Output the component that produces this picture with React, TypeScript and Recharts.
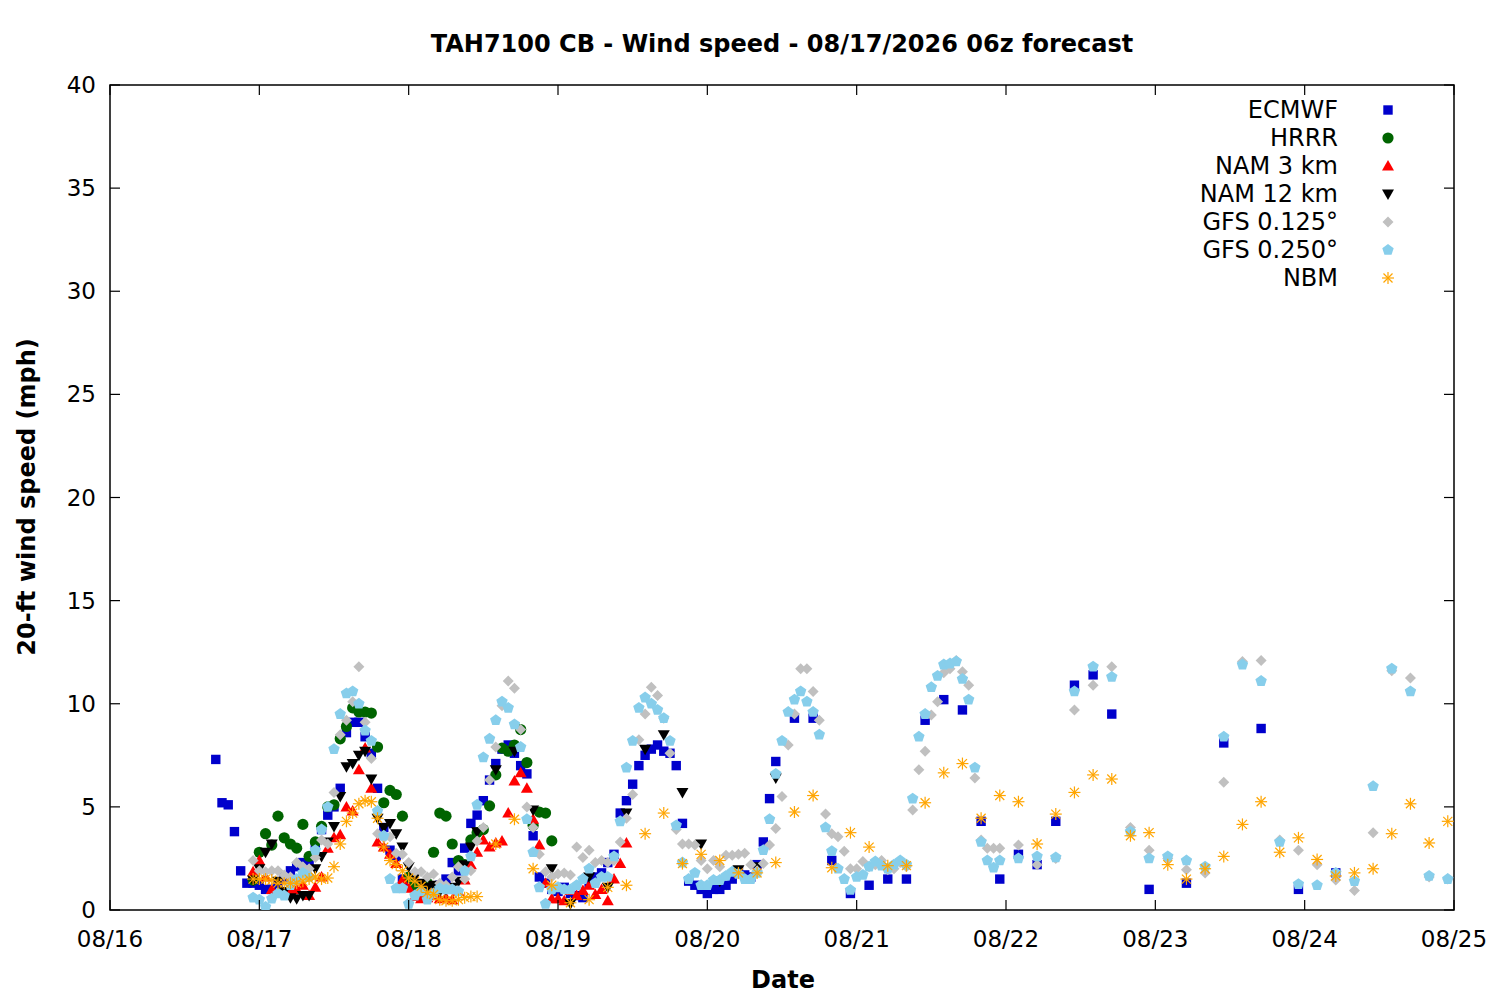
import React from 'react'
import {
  ScatterChart,
  Scatter,
  XAxis,
  YAxis,
  ReferenceArea,
  Legend,
} from 'recharts'

document.body.style.margin = '0'

// hours since 08/16 00:00, wind speed (mph)
const ecmwf: [number, number][] = [
  [17, 7.3], [18, 5.2], [19, 5.1], [20, 3.8], [21, 1.9], [22, 1.3], [23, 1.3], [24, 1.2],
  [25, 1.0], [26, 1.0], [27, 1.3], [28, 1.6], [29, 1.9], [30, 2.1], [31, 2.3], [32, 2.4],
  [33, 3.1], [34, 3.9], [35, 4.6], [36, 5.0], [37, 5.9], [38, 8.6], [39, 9.1], [40, 9.1],
  [41, 8.4], [42, 7.6], [43, 5.9], [44, 4.0], [45, 2.9], [46, 2.6], [47, 1.5], [48, 1.3],
  [49, 1.1], [50, 1.0], [51, 0.8], [52, 0.9], [53, 1.2], [54, 1.5], [55, 2.3], [56, 1.9],
  [57, 3.0], [58, 4.2], [59, 4.6], [60, 5.3], [61, 6.3], [62, 7.1], [63, 7.8], [64, 8.0],
  [65, 7.6], [66, 7.0], [67, 6.6], [68, 3.6], [69, 1.6], [70, 1.3], [71, 1.0], [72, 0.9],
  [73, 1.1], [74, 0.8], [75, 0.7], [76, 0.6], [77, 1.3], [78, 1.6], [79, 1.8], [80, 2.3],
  [81, 2.7], [82, 4.7], [83, 5.3], [84, 6.1], [85, 7.0], [86, 7.5], [87, 7.8], [88, 8.0],
  [89, 7.7], [90, 7.6], [91, 7.0], [92, 4.2], [93, 1.4], [94, 1.2], [95, 1.0], [96, 0.8],
  [97, 1.0], [98, 1.0], [99, 1.2], [100, 1.5], [101, 1.9], [102, 1.7], [103, 1.6], [104, 2.2],
  [105, 3.3], [106, 5.4], [107, 7.2], [110, 9.3], [113, 9.3], [116, 2.4], [119, 0.8],
  [122, 1.2], [125, 1.5], [128, 1.5], [131, 9.2], [134, 10.2], [137, 9.7], [140, 4.3],
  [143, 1.5], [146, 2.7], [149, 2.2], [152, 4.3], [155, 10.9], [158, 11.4], [161, 9.5],
  [167, 1.0], [173, 1.3], [179, 8.1], [185, 8.8], [191, 1.0], [197, 1.8],
]

const hrrr: [number, number][] = [
  [23, 1.45], [24, 2.8], [25, 3.7], [26, 3.15], [27, 4.55], [28, 3.5], [29, 3.2], [30, 3.0],
  [31, 4.15], [32, 2.6], [33, 3.3], [34, 4.05], [35, 5.0], [36, 5.1], [37, 8.3], [38, 8.9],
  [39, 9.8], [40, 9.6], [41, 9.6], [42, 9.55], [43, 7.9], [44, 5.2], [45, 5.8], [46, 5.6],
  [47, 4.55], [48, 1.6], [49, 1.2], [50, 1.0], [51, 1.3], [52, 2.8], [53, 4.7], [54, 4.55],
  [55, 3.2], [56, 2.4], [57, 2.2], [58, 3.4], [59, 3.75], [60, 3.9], [61, 5.05], [62, 6.55],
  [63, 7.85], [64, 7.7], [65, 8.0], [66, 8.75], [67, 7.15], [68, 4.1], [69, 4.75], [70, 4.7],
  [71, 3.35],
]

const nam3: [number, number][] = [
  [23, 1.85], [24, 2.4], [25, 1.6], [26, 1.0], [27, 0.8], [28, 0.8], [29, 0.9], [30, 1.0],
  [31, 1.2], [32, 0.7], [33, 1.1], [34, 1.6], [35, 3.0], [36, 3.5], [37, 3.65], [38, 5.0],
  [39, 4.8], [40, 6.8], [41, 7.85], [42, 5.9], [43, 3.3], [44, 3.05], [45, 2.7], [46, 2.25],
  [47, 1.45], [48, 1.05], [49, 0.65], [50, 0.55], [51, 0.6], [52, 0.7], [53, 0.55], [54, 0.6],
  [55, 0.5], [56, 0.9], [57, 1.45], [58, 2.2], [59, 2.8], [60, 3.4], [61, 3.05], [62, 3.25],
  [63, 3.35], [64, 4.7], [65, 6.25], [66, 6.65], [67, 5.9], [68, 4.4], [69, 3.15], [70, 1.3],
  [71, 0.55], [72, 0.55], [73, 0.45], [74, 0.95], [75, 0.7], [76, 0.95], [77, 1.2], [78, 0.75],
  [79, 1.0], [80, 0.45], [81, 1.5], [82, 2.25], [83, 3.25],
]

const nam12: [number, number][] = [
  [23, 1.45], [24, 2.0], [25, 2.8], [26, 3.2], [27, 1.4], [28, 0.9], [29, 0.6], [30, 0.55],
  [31, 0.7], [32, 0.7], [33, 2.0], [34, 2.6], [35, 3.3], [36, 4.05], [37, 5.5], [38, 6.95],
  [39, 7.1], [40, 7.5], [41, 7.7], [42, 6.35], [43, 4.45], [44, 4.0], [45, 4.2], [46, 3.7],
  [47, 3.05], [48, 2.1], [49, 1.6], [50, 1.3], [51, 1.1], [52, 1.2], [53, 0.9], [54, 1.0],
  [55, 1.1], [56, 1.4], [57, 2.2], [58, 3.05], [59, 3.8], [62, 6.8], [65, 7.7], [68, 4.85],
  [71, 2.0], [74, 0.3], [77, 1.6], [80, 1.1], [83, 4.7], [86, 7.8], [89, 8.5], [92, 5.7],
  [95, 3.2], [98, 1.4], [101, 1.95], [104, 2.1], [107, 6.4],
]

const gfs0125: [number, number][] = [
  [23, 2.4], [24, 1.9], [25, 1.85], [26, 1.9], [27, 1.9], [28, 1.7], [29, 1.6], [30, 2.3],
  [31, 2.1], [32, 2.0], [33, 2.55], [34, 3.4], [35, 3.2], [36, 5.7], [37, 8.5], [38, 9.2],
  [39, 10.1], [40, 11.8], [41, 9.1], [42, 7.35], [43, 3.7], [44, 3.5], [45, 3.55], [46, 2.75],
  [47, 2.7], [48, 2.3], [49, 1.85], [50, 1.85], [51, 1.6], [52, 1.75], [53, 1.3], [54, 1.2],
  [55, 1.6], [56, 2.1], [57, 1.5], [58, 1.9], [59, 3.35], [60, 4.0], [61, 6.3], [62, 7.9],
  [63, 9.9], [64, 11.1], [65, 10.75], [66, 8.75], [67, 5.0], [68, 4.0], [69, 2.7], [70, 1.85],
  [71, 1.6], [72, 1.75], [73, 1.8], [74, 1.7], [75, 3.05], [76, 2.55], [77, 2.9], [78, 2.3],
  [79, 2.4], [80, 2.3], [81, 2.4], [82, 3.3], [83, 4.45], [84, 5.6], [85, 8.25], [86, 9.5],
  [87, 10.8], [88, 10.4], [89, 9.3], [90, 7.6], [91, 3.9], [92, 3.2], [93, 3.2], [94, 3.15],
  [95, 2.4], [96, 2.0], [97, 2.4], [98, 2.1], [99, 2.65], [100, 2.65], [101, 2.7], [102, 2.75],
  [103, 2.2], [104, 1.9], [105, 2.25], [106, 3.15], [107, 3.95], [108, 5.5], [109, 8.0],
  [110, 9.5], [111, 11.7], [112, 11.7], [113, 10.6], [114, 9.2], [115, 4.65], [116, 3.7],
  [117, 3.55], [118, 2.85], [119, 2.0], [120, 2.0], [121, 2.35], [122, 2.1], [123, 2.2],
  [124, 2.4], [125, 1.95], [126, 2.0], [127, 2.3], [128, 2.1], [129, 4.85], [130, 6.8],
  [131, 7.7], [132, 9.45], [133, 10.1], [134, 11.5], [135, 11.7], [136, 12.1], [137, 11.55],
  [138, 10.9], [139, 6.4], [140, 3.4], [141, 3.0], [142, 3.0], [143, 3.0], [146, 3.15],
  [149, 2.2], [152, 2.5], [155, 9.7], [158, 10.9], [161, 11.8], [164, 4.0], [167, 2.9],
  [170, 2.5], [173, 1.95], [176, 1.8], [179, 6.2], [182, 12.05], [185, 12.1], [188, 3.4],
  [191, 2.9], [194, 2.2], [197, 1.45], [200, 0.95], [203, 3.75], [206, 11.6], [209, 11.25],
  [212, 1.6], [215, 1.5],
]

const gfs0250: [number, number][] = [
  [23, 0.6], [24, 0.5], [25, 0.15], [26, 0.55], [27, 0.8], [28, 0.7], [29, 1.2], [30, 1.5],
  [31, 1.8], [32, 1.6], [33, 2.9], [34, 3.9], [35, 5.0], [36, 7.8], [37, 9.5], [38, 10.5],
  [39, 10.6], [40, 10.0], [41, 8.7], [42, 8.2], [43, 4.8], [44, 3.6], [45, 1.5], [46, 1.05],
  [47, 1.05], [48, 0.3], [49, 0.7], [50, 0.9], [51, 0.5], [52, 0.8], [53, 1.05], [54, 1.0],
  [55, 1.0], [56, 0.9], [57, 1.9], [58, 2.6], [59, 5.1], [60, 7.4], [61, 8.3], [62, 9.2],
  [63, 10.1], [64, 9.8], [65, 9.0], [66, 7.9], [67, 4.4], [68, 2.8], [69, 1.1], [70, 0.3],
  [71, 1.0], [72, 1.1], [73, 1.0], [74, 1.0], [75, 1.2], [76, 1.5], [77, 2.0], [78, 1.3],
  [79, 1.6], [80, 1.6], [81, 2.6], [82, 4.3], [83, 6.9], [84, 8.2], [85, 9.8], [86, 10.3],
  [87, 10.0], [88, 9.7], [89, 9.3], [90, 8.2], [91, 4.1], [92, 2.3], [93, 1.5], [94, 1.8],
  [95, 1.2], [96, 1.2], [97, 1.45], [98, 1.45], [99, 1.65], [100, 1.85], [101, 1.75],
  [102, 1.5], [103, 1.5], [104, 1.8], [105, 2.9], [106, 4.4], [107, 6.6], [108, 8.2],
  [109, 9.6], [110, 10.2], [111, 10.6], [112, 10.1], [113, 9.6], [114, 8.5], [115, 4.0],
  [116, 2.85], [117, 2.0], [118, 1.5], [119, 0.97], [120, 1.6], [121, 1.7], [122, 2.1],
  [123, 2.35], [124, 2.15], [125, 2.0], [126, 2.2], [127, 2.4], [128, 2.2], [129, 5.4],
  [130, 8.4], [131, 9.5], [132, 10.8], [133, 11.35], [134, 11.9], [135, 11.95], [136, 12.05],
  [137, 11.2], [138, 10.2], [139, 6.9], [140, 3.3], [141, 2.4], [142, 2.05], [143, 2.4],
  [146, 2.5], [149, 2.6], [152, 2.55], [155, 10.6], [158, 11.8], [161, 11.3], [164, 3.8],
  [167, 2.5], [170, 2.6], [173, 2.4], [176, 2.1], [179, 8.4], [182, 11.9], [185, 11.1],
  [188, 3.3], [191, 1.25], [194, 1.2], [197, 1.8], [200, 1.4], [203, 6.0], [206, 11.7],
  [209, 10.6], [212, 1.65], [215, 1.5],
]

const nbm: [number, number][] = [
  [23, 1.5], [24, 1.5], [25, 1.5], [26, 1.45], [27, 1.3], [28, 1.3], [29, 1.3], [30, 1.3],
  [31, 1.4], [32, 1.5], [33, 1.6], [34, 1.5], [35, 1.55], [36, 2.1], [37, 3.2], [38, 4.3],
  [39, 4.7], [40, 5.15], [41, 5.3], [42, 5.25], [43, 4.45], [44, 3.05], [45, 2.4], [46, 2.2],
  [47, 1.9], [48, 1.55], [49, 1.4], [50, 1.15], [51, 0.85], [52, 0.75], [53, 0.5], [54, 0.45],
  [55, 0.45], [56, 0.5], [57, 0.6], [58, 0.65], [59, 0.65], [62, 3.2], [65, 4.4], [68, 2.0],
  [71, 1.2], [74, 0.35], [77, 0.5], [80, 1.1], [83, 1.2], [86, 3.7], [89, 4.7], [92, 2.25],
  [95, 2.7], [98, 2.4], [101, 1.8], [104, 1.8], [107, 2.3], [110, 4.75], [113, 5.55],
  [116, 2.05], [119, 3.75], [122, 3.05], [125, 2.15], [128, 2.15], [131, 5.2], [134, 6.65],
  [137, 7.1], [140, 4.45], [143, 5.55], [146, 5.25], [149, 3.2], [152, 4.65], [155, 5.7],
  [158, 6.55], [161, 6.35], [164, 3.6], [167, 3.75], [170, 2.2], [173, 1.5], [176, 2.0],
  [179, 2.6], [182, 4.15], [185, 5.25], [188, 2.8], [191, 3.5], [194, 2.45], [197, 1.65],
  [200, 1.8], [203, 2.0], [206, 3.7], [209, 5.15], [212, 3.25], [215, 4.3],
]

const X_TICKS = [0, 24, 48, 72, 96, 120, 144, 168, 192, 216]
const Y_TICKS = [0, 5, 10, 15, 20, 25, 30, 35, 40]

const FONT = '"DejaVu Sans", sans-serif'
const FS = 24
const TICK_FS = 23

// plot box (matches chart margins + axis sizes below)
const LEFT = 110
const RIGHT = 1454
const TOP = 85
const BOTTOM = 910
const TICK = 10

type Sym = (cx: number, cy: number, color: string) => React.ReactElement

const square: Sym = (cx, cy, c) => <rect x={cx - 4.7} y={cy - 4.7} width={9.4} height={9.4} fill={c} />
const circle: Sym = (cx, cy, c) => <circle cx={cx} cy={cy} r={5.6} fill={c} />
const triUp: Sym = (cx, cy, c) => (
  <polygon points={`${cx},${cy - 6} ${cx + 6},${cy + 4.5} ${cx - 6},${cy + 4.5}`} fill={c} />
)
const triDown: Sym = (cx, cy, c) => (
  <polygon points={`${cx - 6},${cy - 4.5} ${cx + 6},${cy - 4.5} ${cx},${cy + 6}`} fill={c} />
)
const diamond: Sym = (cx, cy, c) => (
  <polygon points={`${cx},${cy - 5.5} ${cx + 5.5},${cy} ${cx},${cy + 5.5} ${cx - 5.5},${cy}`} fill={c} />
)
const pentagon: Sym = (cx, cy, c) => {
  const pts = [0, 1, 2, 3, 4]
    .map(k => {
      const a = ((-90 + 72 * k) * Math.PI) / 180
      return `${cx + 6 * Math.cos(a)},${cy + 6 * Math.sin(a)}`
    })
    .join(' ')
  return <polygon points={pts} fill={c} />
}
const asterisk: Sym = (cx, cy, c) => (
  <g stroke={c} strokeWidth={1.2}>
    <line x1={cx - 6} y1={cy} x2={cx + 6} y2={cy} />
    <line x1={cx} y1={cy - 6} x2={cx} y2={cy + 6} />
    <line x1={cx - 4.5} y1={cy - 4.5} x2={cx + 4.5} y2={cy + 4.5} />
    <line x1={cx - 4.5} y1={cy + 4.5} x2={cx + 4.5} y2={cy - 4.5} />
  </g>
)

const SERIES = [
  { name: 'ECMWF', data: ecmwf, color: '#0000cc', sym: square },
  { name: 'HRRR', data: hrrr, color: '#006400', sym: circle },
  { name: 'NAM 3 km', data: nam3, color: '#ff0000', sym: triUp },
  { name: 'NAM 12 km', data: nam12, color: '#000000', sym: triDown },
  { name: 'GFS 0.125°', data: gfs0125, color: '#c0c0c0', sym: diamond },
  { name: 'GFS 0.250°', data: gfs0250, color: '#87ceeb', sym: pentagon },
  { name: 'NBM', data: nbm, color: '#ffa500', sym: asterisk },
]

const toPoints = (arr: [number, number][]) => arr.map(([h, v]) => ({ h, v }))

const dateLabel = (h: number) => `08/${16 + h / 24}`

function XTick(props: any) {
  const { x, payload } = props
  return (
    <g>
      <line x1={x} x2={x} y1={BOTTOM} y2={BOTTOM - TICK} stroke="#000" strokeWidth={1.2} />
      <line x1={x} x2={x} y1={TOP} y2={TOP + TICK} stroke="#000" strokeWidth={1.2} />
      <text x={x} y={947} textAnchor="middle" fontFamily={FONT} fontSize={TICK_FS} fill="#000">
        {dateLabel(payload.value)}
      </text>
    </g>
  )
}

function YTick(props: any) {
  const { y, payload } = props
  return (
    <g>
      <line x1={LEFT} x2={LEFT + TICK} y1={y} y2={y} stroke="#000" strokeWidth={1.2} />
      <line x1={RIGHT} x2={RIGHT - TICK} y1={y} y2={y} stroke="#000" strokeWidth={1.2} />
      <text x={96} y={y + 8} textAnchor="end" fontFamily={FONT} fontSize={TICK_FS} fill="#000">
        {payload.value}
      </text>
    </g>
  )
}

function LegendBox() {
  return (
    <div style={{ position: 'absolute', left: 0, top: 0, width: 1500, height: 1000, pointerEvents: 'none' }}>
      {SERIES.map((s, i) => (
        <div
          key={s.name}
          style={{
            position: 'absolute',
            top: 96 + i * 28,
            right: 1500 - 1338,
            fontFamily: FONT,
            fontSize: FS,
            lineHeight: '28px',
            whiteSpace: 'nowrap',
            color: '#000',
          }}
        >
          {s.name}
        </div>
      ))}
      <svg width={1500} height={1000} style={{ position: 'absolute', left: 0, top: 0 }}>
        {SERIES.map((s, i) => (
          <g key={s.name}>{s.sym(1388, 110 + i * 28, s.color)}</g>
        ))}
      </svg>
    </div>
  )
}

export default function App() {
  return (
    <div style={{ position: 'relative', width: 1500, height: 1000, background: '#fff' }}>
      <ScatterChart
        width={1500}
        height={1000}
        margin={{ top: TOP, right: 1500 - RIGHT, left: 0, bottom: 0 }}
      >
        <XAxis
          type="number"
          dataKey="h"
          domain={[0, 216]}
          ticks={X_TICKS}
          allowDataOverflow
          height={1000 - BOTTOM}
          axisLine={false}
          tickLine={false}
          tick={<XTick />}
        />
        <YAxis
          type="number"
          dataKey="v"
          domain={[0, 40]}
          ticks={Y_TICKS}
          allowDataOverflow
          width={LEFT}
          axisLine={false}
          tickLine={false}
          tick={<YTick />}
        />
        <ReferenceArea x1={0} x2={216} y1={0} y2={40} fill="none" stroke="#000" strokeWidth={1.5} fillOpacity={0} />
        {SERIES.map(s => (
          <Scatter
            key={s.name}
            name={s.name}
            data={toPoints(s.data)}
            isAnimationActive={false}
            shape={(p: any) => s.sym(p.cx, p.cy, s.color)}
          />
        ))}
        <Legend content={() => null} />
      </ScatterChart>
      <LegendBox />
      <svg width={1500} height={1000} style={{ position: 'absolute', left: 0, top: 0, pointerEvents: 'none' }}>
        <text x={782} y={52} textAnchor="middle" fontFamily={FONT} fontSize={FS} fontWeight="bold">
          TAH7100 CB - Wind speed - 08/17/2026 06z forecast
        </text>
        <text x={783} y={988} textAnchor="middle" fontFamily={FONT} fontSize={FS} fontWeight="bold">
          Date
        </text>
        <text
          x={0}
          y={0}
          transform="translate(35 497) rotate(-90)"
          textAnchor="middle"
          fontFamily={FONT}
          fontSize={FS}
          fontWeight="bold"
        >
          20-ft wind speed (mph)
        </text>
      </svg>
    </div>
  )
}
